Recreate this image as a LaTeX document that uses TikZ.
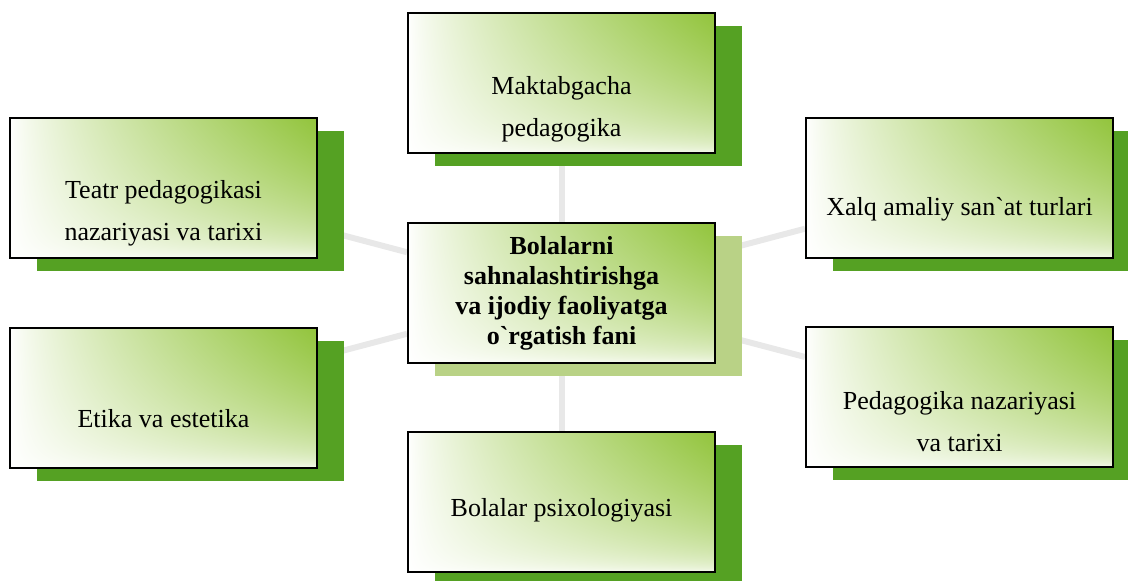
\documentclass[tikz,border=0pt]{standalone}
\usepackage{fontspec}
\setmainfont{Liberation Serif}
\usetikzlibrary{shadows, backgrounds}
\definecolor{shadegreen}{HTML}{55A123}
\definecolor{palegreen}{HTML}{B9D286}
\definecolor{linkgray}{HTML}{E8E8E8}
% white (left, bottom) to leaf green (top right); the box spans -25bp..25bp
\pgfdeclarefunctionalshading{panel}{\pgfpoint{-50bp}{-50bp}}{\pgfpoint{50bp}{50bp}}{}{
  25 add 50 div dup 0 lt {pop 0} if dup 1 gt {pop 1} if 0.45 exp
  exch 25 add 50 div dup 0 lt {pop 0} if dup 1 gt {pop 1} if 0.8 exp mul
  dup 0.427 mul 1 exch sub exch
  dup 0.231 mul 1 exch sub exch
  0.765 mul 1 exch sub
}
\tikzstyle{base} = [draw, line width=1pt, shade, shading=panel, rectangle, minimum width=153.5pt, minimum height=70pt, inner sep=0pt]
\tikzstyle{block} = [base, drop shadow={shadow xshift=13.5pt, shadow yshift=-6.5pt, fill=shadegreen, draw=none, opacity=1}]
\tikzstyle{hub} = [base, drop shadow={shadow xshift=13.5pt, shadow yshift=-6.5pt, fill=palegreen, draw=none, opacity=1}, align=center, font=\fontsize{13}{15}\selectfont\bfseries]
\tikzstyle{txt} = [align=center, inner sep=0pt, font=\fontsize{13}{21}\selectfont]
\tikzstyle{link} = [draw=linkgray, line width=3pt]

\begin{document}
\begin{tikzpicture}[x=0.5pt, y=-0.5pt, node distance=199pt]
    \useasboundingbox (0,0) rectangle (1128,581);
    \node[hub] (c) at (561.5,293) {Bolalarni\\sahnalashtirishga\\va ijodiy faoliyatga\\o\textasciigrave rgatish fani};
    \node[block, above of=c, node distance=104.75pt, label={[txt, yshift=-12.7pt]center:{Maktabgacha\\pedagogika}}] (mp) {};
    \node[block, below of=c, node distance=104.5pt, label={[txt, yshift=-4.3pt]center:{Bolalar psixologiyasi}}] (bp) {};
    \node[block, left of=c, yshift=52.5pt, label={[txt, yshift=-12.5pt]center:{Teatr pedagogikasi\\nazariyasi va tarixi}}] (tp) {};
    \node[block, left of=c, yshift=-52.5pt, label={[txt, yshift=-10.5pt]center:{Etika va estetika}}] (ee) {};
    \node[block, right of=c, yshift=52.5pt, label={[txt, yshift=-10.5pt]center:{Xalq amaliy san\textasciigrave at turlari}}] (xa) {};
    \node[block, right of=c, yshift=-52.25pt, label={[txt, yshift=-12.3pt]center:{Pedagogika nazariyasi\\va tarixi}}] (pn) {};
    \begin{scope}[on background layer]
        \draw[link] (c) -- (mp);
        \draw[link] (c) -- (bp);
        \draw[link] (c) -- (tp);
        \draw[link] (c) -- (ee);
        \draw[link] (c) -- (xa);
        \draw[link] (c) -- (pn);
    \end{scope}
\end{tikzpicture}
\end{document}
